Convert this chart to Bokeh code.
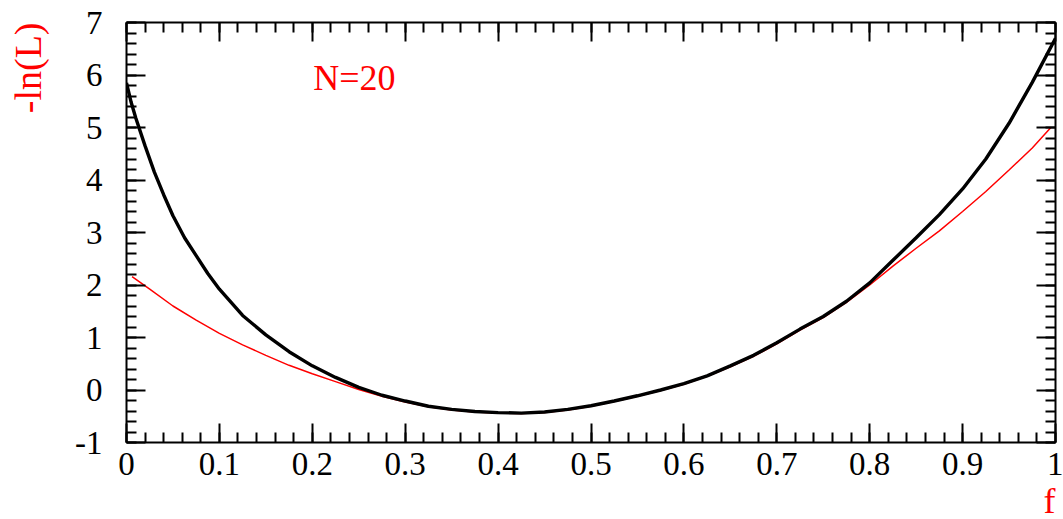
from bokeh.plotting import figure
from bokeh.models import (LinearAxis, SingleIntervalTicker, CustomJSTickFormatter,
                          Label, Range1d, Title)
from bokeh.embed import file_html
from bokeh.resources import INLINE

# -ln(L) curves
f_black = [0.0, 0.005, 0.01, 0.02, 0.03, 0.04, 0.05, 0.0625, 0.075, 0.0875, 0.1, 0.125,
           0.15, 0.175, 0.2, 0.225, 0.25, 0.275, 0.3, 0.325, 0.35, 0.375, 0.4, 0.425,
           0.45, 0.475, 0.5, 0.525, 0.55, 0.575, 0.6, 0.625, 0.65, 0.675, 0.7, 0.725,
           0.75, 0.775, 0.8, 0.825, 0.85, 0.875, 0.9, 0.925, 0.95, 0.975, 1.0]
nll_black = [5.85, 5.48, 5.18, 4.65, 4.15, 3.72, 3.32, 2.90, 2.56, 2.22, 1.92, 1.42,
             1.05, 0.73, 0.46, 0.24, 0.05, -0.10, -0.21, -0.31, -0.37, -0.41, -0.43, -0.44,
             -0.42, -0.37, -0.30, -0.21, -0.11, 0.00, 0.12, 0.27, 0.46, 0.66, 0.90, 1.16,
             1.40, 1.69, 2.04, 2.47, 2.90, 3.34, 3.83, 4.40, 5.08, 5.86, 6.70]

f_red = [0.006, 0.025, 0.05, 0.075, 0.1, 0.125, 0.15, 0.175, 0.2, 0.225, 0.25,
         0.275, 0.3, 0.325, 0.35, 0.375, 0.4, 0.425, 0.45, 0.475, 0.5, 0.525, 0.55,
         0.575, 0.6, 0.625, 0.65, 0.675, 0.7, 0.725, 0.75, 0.775, 0.8, 0.825, 0.85,
         0.875, 0.9, 0.925, 0.95, 0.975, 0.995]
nll_red = [2.16, 1.92, 1.60, 1.33, 1.08, 0.86, 0.66, 0.47, 0.31, 0.16, 0.01,
           -0.12, -0.23, -0.32, -0.38, -0.42, -0.44, -0.45, -0.43, -0.38, -0.31, -0.22, -0.12,
           -0.01, 0.11, 0.26, 0.44, 0.64, 0.88, 1.14, 1.38, 1.67, 2.00, 2.36, 2.70,
           3.03, 3.40, 3.78, 4.19, 4.61, 5.00]

x_title = "f"
y_title = "-ln(L)"
annotation = "N=20"

FONT = "Liberation Serif"
RED = "#ff0000"

p = figure(width=1063, height=519, x_range=Range1d(0, 1), y_range=Range1d(-1, 7),
           output_backend="svg", toolbar_location=None,
           min_border_left=126, min_border_right=8, min_border_top=22, min_border_bottom=77,
           x_axis_location=None, y_axis_location=None)
p.grid.visible = False
p.outline_line_color = None
p.background_fill_color = "white"
p.border_fill_color = "white"

xfmt = CustomJSTickFormatter(code="return tick.toFixed(1).replace(/\\.0$/, '');")
yfmt = CustomJSTickFormatter(code="return tick.toFixed(0);")


def make_axis(ticker_interval, fmt, show_labels, standoff):
    ax = LinearAxis(ticker=SingleIntervalTicker(interval=ticker_interval, num_minor_ticks=5),
                    formatter=fmt)
    ax.axis_line_color = "black"
    ax.axis_line_width = 2
    ax.major_tick_in = 19
    ax.major_tick_out = 0
    ax.minor_tick_in = 10
    ax.minor_tick_out = 0
    ax.major_tick_line_width = 2
    ax.minor_tick_line_width = 2
    ax.major_tick_line_color = "black"
    ax.minor_tick_line_color = "black"
    ax.major_label_text_font = FONT
    ax.major_label_standoff = standoff
    if show_labels:
        ax.major_label_text_font_size = "33px"
        ax.major_label_text_color = "black"
    else:
        ax.major_label_text_font_size = "1px"
        ax.major_label_text_color = None
        ax.major_label_standoff = 0
    return ax


xaxis = make_axis(0.1, xfmt, True, 10)
yaxis = make_axis(1, yfmt, True, 24)
# invisible spacer labels that push the titles outward
yaxis.axis_label = " "
yaxis.axis_label_text_color = None
yaxis.axis_label_text_font_size = "2px"
yaxis.axis_label_standoff = 18
xaxis.axis_label = " "
xaxis.axis_label_text_color = None
xaxis.axis_label_text_font_size = "2px"
xaxis.axis_label_standoff = 3

p.add_layout(xaxis, "below")
p.add_layout(yaxis, "left")
p.add_layout(make_axis(0.1, xfmt, False, 0), "above")
p.add_layout(make_axis(1, yfmt, False, 0), "right")

p.add_layout(Title(text=y_title, align="right", vertical_align="bottom", standoff=0,
                   text_font=FONT, text_font_size="38px", text_font_style="normal",
                   text_color=RED), "left")
p.add_layout(Title(text=x_title, align="right", vertical_align="bottom", standoff=-14,
                   text_font=FONT, text_font_size="36px", text_font_style="normal",
                   text_color=RED), "below")

p.line(f_red, nll_red, line_color=RED, line_width=1.5)
p.line(f_black, nll_black, line_color="black", line_width=3.4)

p.add_layout(Label(x=0.201, y=5.943, text=annotation, text_font=FONT, text_font_size="36px",
                   text_color=RED, text_align="left", text_baseline="middle"))

open("out.html", "w").write(file_html(p, INLINE))
